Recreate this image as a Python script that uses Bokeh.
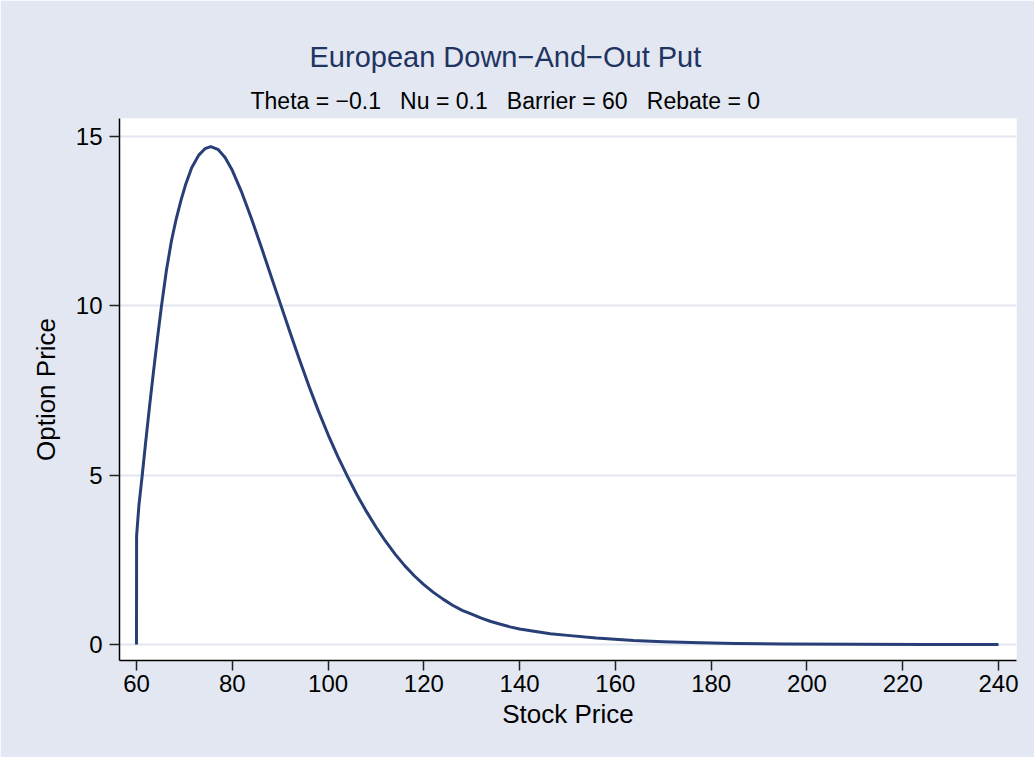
from bokeh.plotting import figure
from bokeh.models import Title, Range1d, FixedTicker, ColumnDataSource
from bokeh.embed import file_html
from bokeh.resources import INLINE

# ---- data ----
stock_price = [60.0, 60.02, 60.5, 61.2, 61.93, 62.7, 63.5, 64.34, 65.22, 66.25, 67.3,
               68.3, 69.3, 70.3, 71.5, 73.0, 74.3, 75.5, 77.0, 78.5, 80.0, 82.0, 84.0,
               86.0, 88.0, 90.0, 92.0, 94.0, 96.0, 98.0, 100.0, 102.0, 104.0, 106.0,
               108.0, 110.0, 112.0, 114.0, 116.0, 118.0, 120.0, 122.0, 124.0, 126.0,
               128.0, 130.0, 132.0, 134.0, 136.0, 138.0, 140.0, 143.0, 146.4, 150.0,
               156.0, 163.8, 170.0, 177.8, 185.0, 195.0, 210.0, 225.0, 240.0]
option_price = [0.0, 3.2, 4.1, 5.0, 6.0, 7.0, 8.0, 9.0, 10.0, 11.05, 11.92,
                12.57, 13.12, 13.6, 14.07, 14.45, 14.64, 14.70, 14.62, 14.38, 14.0, 13.34, 12.58,
                11.76, 10.92, 10.08, 9.24, 8.42, 7.63, 6.89, 6.20, 5.56, 4.98, 4.43,
                3.93, 3.47, 3.05, 2.67, 2.33, 2.03, 1.77, 1.54, 1.34, 1.16,
                1.01, 0.90, 0.78, 0.68, 0.60, 0.52, 0.46, 0.39, 0.32, 0.27,
                0.19, 0.12, 0.085, 0.05, 0.03, 0.015, 0.006, 0.002, 0.001]
x_ticks = [60, 80, 100, 120, 140, 160, 180, 200, 220, 240]
y_ticks = [0, 5, 10, 15]

GAP = "\u00a0\u00a0\u00a0"
title_text = "European Down\u2212And\u2212Out Put"
subtitle_text = ("Theta = \u22120.1" + GAP + "Nu = 0.1" + GAP + "Barrier = 60" + GAP
                 + "Rebate = 0")
x_label = "Stock Price"
y_label = "Option Price"

BG = "#E2E7F1"
GRID = "#E1E6EF"
LINE = "#273F76"
TITLE = "#1F3461"
FONT = "Liberation Sans"

src = ColumnDataSource(data=dict(x=stock_price, y=option_price))

p = figure(width=1034, height=757, output_backend="svg", toolbar_location=None,
           title=None,
           x_range=Range1d(56.45, 243.76), y_range=Range1d(-0.472, 15.531),
           min_border_left=119, min_border_right=18, min_border_top=118,
           min_border_bottom=97)
p.background_fill_color = "white"
p.border_fill_color = BG
p.outline_line_color = None

p.line("x", "y", source=src, line_color=LINE, line_width=3, line_join="round")

p.xaxis.ticker = FixedTicker(ticks=x_ticks)
p.yaxis.ticker = FixedTicker(ticks=y_ticks)
for ax in (p.xaxis[0], p.yaxis[0]):
    ax.axis_line_color = "#000000"
    ax.axis_line_width = 1.5
    ax.major_tick_line_color = "#222222"
    ax.major_tick_line_width = 1.5
    ax.major_tick_out = 10
    ax.major_tick_in = 0
    ax.minor_tick_line_color = None
    ax.major_label_text_font = FONT
    ax.major_label_text_font_size = "24px"
    ax.major_label_text_color = "#000000"
    ax.axis_label_text_font = FONT
    ax.axis_label_text_font_size = "26px"
    ax.axis_label_text_font_style = "normal"
    ax.axis_label_text_color = "#000000"

p.xaxis.axis_label = x_label
p.yaxis.axis_label = y_label
p.xaxis.major_label_standoff = 4
p.yaxis.major_label_standoff = 7
p.xaxis.axis_label_standoff = 4
p.yaxis.axis_label_standoff = 12

p.xgrid.grid_line_color = None
p.ygrid.grid_line_color = GRID
p.ygrid.grid_line_width = 2

p.add_layout(Title(text=subtitle_text, align="left", offset=131, standoff=10,
                   text_font=FONT, text_font_size="23px", text_font_style="normal",
                   text_color="#000000"), "above")
p.add_layout(Title(text=title_text, align="left", offset=190, standoff=15,
                   text_font=FONT, text_font_size="29px", text_font_style="normal",
                   text_color=TITLE), "above")

open("out.html", "w").write(file_html(p, INLINE))
